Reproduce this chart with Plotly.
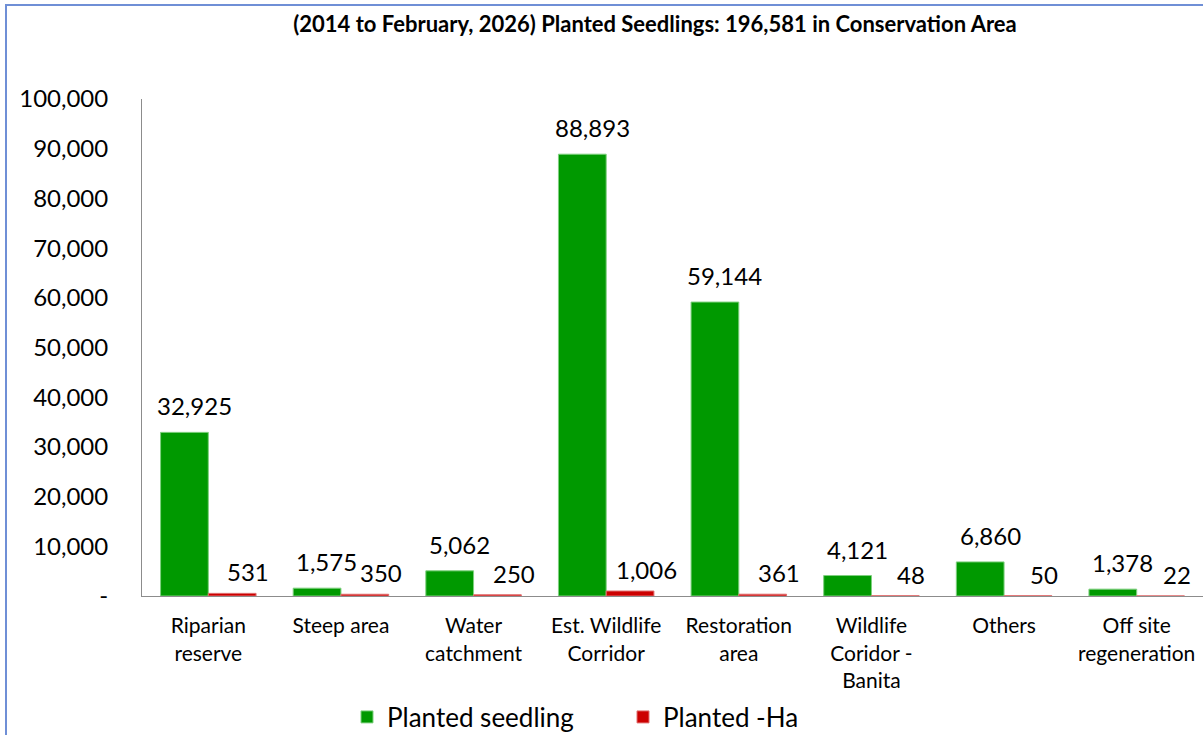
import plotly.graph_objects as go

categories = ["Riparian<br>reserve", "Steep area", "Water<br>catchment", "Est. Wildlife<br>Corridor",
              "Restoration<br>area", "Wildlife<br>Coridor -<br>Banita", "Others", "Off site<br>regeneration"]
seedlings = [32925, 1575, 5062, 88893, 59144, 4121, 6860, 1378]
hectares = [531, 350, 250, 1006, 361, 48, 50, 22]
tick_vals = [0, 10000, 20000, 30000, 40000, 50000, 60000, 70000, 80000, 90000, 100000]
tick_text = ["-", "10,000", "20,000", "30,000", "40,000", "50,000", "60,000", "70,000", "80,000", "90,000", "100,000"]

FONT = "Lato, 'Open Sans', sans-serif"
W, H = 1203, 735
L, R, T, B = 142, 0, 99, 139
GREEN = "#009900"
RED = "#cc0000"

fig = go.Figure()
fig.add_trace(go.Bar(
    x=categories, y=seedlings, name="Planted seedling",
    marker=dict(color=GREEN, line=dict(color="#7fd07f", width=1)),
))
fig.add_trace(go.Bar(
    x=categories, y=hectares, name="Planted -Ha",
    marker=dict(color=RED, line=dict(color="#e07070", width=1)),
))

# data labels (Excel-style placement, slightly right of bar centres)
for cat, v in zip(categories, seedlings):
    fig.add_annotation(x=cat, y=v, xref="x", yref="y", text=f"{v:,}", showarrow=False,
                       xanchor="center", yanchor="bottom", xshift=-14, yshift=10,
                       font=dict(size=24, family=FONT, color="#000000"))
for cat, v in zip(categories, hectares):
    fig.add_annotation(x=cat, y=v, xref="x", yref="y", text=f"{v:,}", showarrow=False,
                       xanchor="center", yanchor="bottom", xshift=40, yshift=5,
                       font=dict(size=24, family=FONT, color="#000000"))

pw = W - L - R
ph = H - T - B
x0 = (6 - L) / pw
y1 = (H - B - 5) / ph
fig.add_shape(type="rect", xref="paper", yref="paper", x0=x0, x1=1.2, y0=-0.5, y1=y1,
              line=dict(color="#6f8fd6", width=2), fillcolor="rgba(0,0,0,0)", layer="below")

fig.update_layout(
    width=W, height=H,
    margin=dict(l=L, r=R, t=T, b=B, autoexpand=False),
    paper_bgcolor="white", plot_bgcolor="white",
    title=dict(text="<b>(2014 to February, 2026) Planted Seedlings: 196,581 in Conservation Area</b>",
               x=655 / W, xanchor="center", y=1 - 24 / H, yanchor="middle",
               font=dict(size=22, color="#000000", family=FONT)),
    barmode="group", bargap=0.28, bargroupgap=0,
    font=dict(family=FONT, color="#000000"),
    legend=dict(orientation="h", xref="container", yref="container",
                x=347 / W, xanchor="left", y=1 - 717 / H, yanchor="middle",
                font=dict(size=26, family=FONT, color="#000000"),
                entrywidth=231, entrywidthmode="pixels",
                itemwidth=30, traceorder="normal"),
    showlegend=True,
)
fig.update_xaxes(showline=True, linecolor="#8c8c8c", linewidth=1, showgrid=False, automargin=False,
                 tickfont=dict(size=21, family=FONT, color="#000000"), ticks="",
                 range=[-0.5, 7.5], ticklabelstandoff=11)
fig.update_yaxes(showline=True, linecolor="#8c8c8c", linewidth=1, showgrid=False, zeroline=False,
                 automargin=False,
                 range=[0, 100000], tickvals=tick_vals, ticktext=tick_text,
                 tickfont=dict(size=24, family=FONT, color="#000000"), ticks="",
                 ticklabelstandoff=28)

fig.write_html("out.html", config={"displayModeBar": False},
               post_script="document.body.style.margin='0';")
